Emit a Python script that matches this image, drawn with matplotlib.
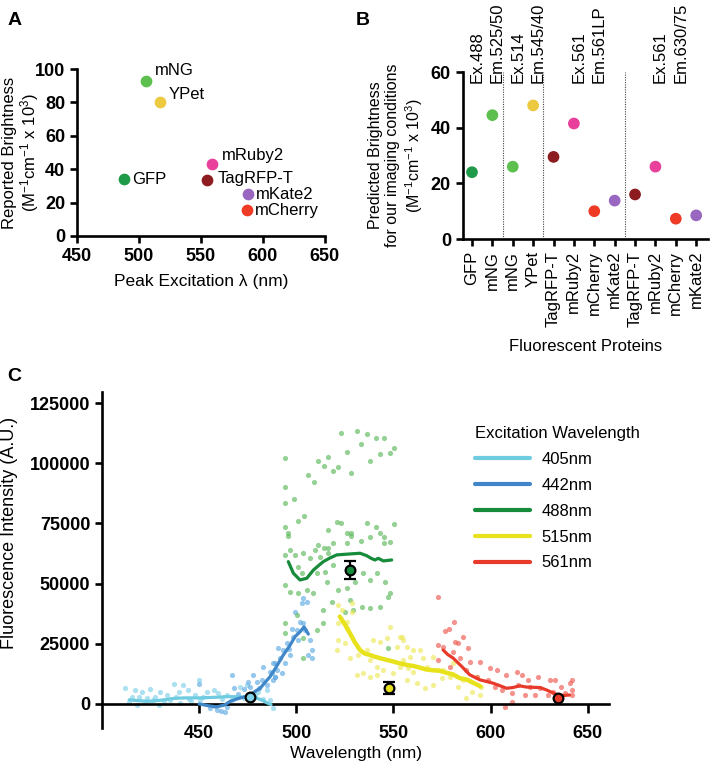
import matplotlib
matplotlib.use("Agg")
import matplotlib.pyplot as plt

plt.rcParams['font.family'] = ['Liberation Sans', 'DejaVu Sans']
plt.rcParams['mathtext.fontset'] = 'custom'
plt.rcParams['mathtext.rm'] = 'Liberation Sans'
plt.rcParams['mathtext.it'] = 'Liberation Sans:italic'
plt.rcParams['mathtext.bf'] = 'Liberation Sans:bold'

# ---- panel A: reported brightness vs peak excitation
a_names = ['GFP', 'mNG', 'YPet', 'mRuby2', 'TagRFP-T', 'mKate2', 'mCherry']
a_excitation = [488, 506, 517, 559, 555, 588, 587]
a_brightness = [34, 93, 80, 43, 33.5, 25, 15.5]

fp_colors = {'GFP': '#1f9a48', 'mNG': '#5cbf4e', 'YPet': '#ecc93e',
             'mRuby2': '#e8409b', 'TagRFP-T': '#8c1c1f',
             'mKate2': '#9966c0', 'mCherry': '#ef3a25'}

# ---- panel B: predicted brightness for our imaging conditions
b_names = ['GFP', 'mNG', 'mNG', 'YPet', 'TagRFP-T', 'mRuby2', 'mCherry', 'mKate2',
           'TagRFP-T', 'mRuby2', 'mCherry', 'mKate2']
b_brightness = [24, 44.5, 26, 48, 29.5, 41.5, 10, 13.8, 16, 26, 7.3, 8.5]
b_filters = ['Ex.488', 'Em.525/50', 'Ex.514', 'Em.545/40', '', 'Ex.561', 'Em.561LP', '',
             '', 'Ex.561', 'Em.630/75', '']
b_dividers = [1.5, 3.5, 7.5]

# ---- panel C: emission spectra (scatter = raw, line = smoothed)
s405_wl = [412.0, 417.1, 420.5, 424.8, 430.0, 415.4, 418.8, 423.1, 427.4, 433.4, 437.1,
           441.9, 439.7, 435.1, 444.5, 450.0, 447.9, 454.0, 457.4, 459.9, 450.5, 440.2,
           429.1, 418.0, 464.2, 470.2, 477.1, 480.5, 484.8, 486.5, 488.2, 471.1, 474.5,
           445, 426, 432, 414, 422, 438, 446, 452, 462, 467, 473, 479, 483]
s405_val = [6500, 5800, 5100, 6100, 5100, 3000, 3000, 2400, 3000, 3700, 8200,
            7900, 5100, 1700, 5800, 10000, 3700, 5100, 5800, 4400, 1700, 300,
            -300, -300, 3700, 3000, 1700, 5100, 5800, 1700, -1800, 7200, 7900,
            2000, 1500, 800, 1000, 900, 2800, 1200, 3000, 2200, 1500, 2500, 3500, 2000]

s442_wl = [450.0, 455.7, 459.1, 463.4, 464.2, 466.8, 467.7, 475.3, 477.9, 479.7, 483.1,
           482.2, 488.2, 490.8, 489.1, 486.5, 503.6, 505.4, 502.8, 499.4, 501.9, 503.6,
           504.5, 500.2, 498.5, 501.1, 495.1, 507.1, 507.9, 506.2, 507.9, 493.3, 496.8,
           491.6, 494.2, 489.1, 490.0, 487.4, 492.5, 488.2, 489.1,
           458, 461, 470, 473, 476, 481, 485, 496, 498]
s442_val = [8300, -1800, -2500, -3200, -1100, 12000, 6500, 9300, 12200, 9300, 15500,
            10000, 16900, 23100, 11300, 13400, 43900, 42500, 41800, 38300, 34200, 33500,
            30700, 30700, 28000, 26600, 25200, 26600, 22400, 20300, 19000, 22400, 20300,
            19000, 16900, 16900, 14100, 12700, 12700, 10000, 11300,
            -1000, -2800, 4000, 6000, 7000, 6500, 8000, 23000, 31000]

s488_wl = [523.0, 531.2, 536.2, 541.0, 545.1, 550.3, 533.1, 526.1, 548.0, 543.2, 538.2,
           494.1, 511.2, 516.2, 514.1, 521.3, 519.1, 528.1, 506.0, 509.1, 494.1, 499.0,
           494.1, 504.1, 501.1, 494.1, 495.9, 495.9, 521.0, 523.0, 516.2, 536.2, 541.0,
           550.3, 526.1, 528.1, 528.1, 543.1, 545.1, 538.2, 533.1, 548.2, 545.1, 519.1,
           526.1, 511.2, 514.1, 516.2,
           494.2, 496.8, 499.4, 503.6, 507.1, 509.6, 512.2, 516.5, 519.1, 514.8, 510.5,
           502.8, 501.1, 494.2, 496.8, 501.1, 505.4, 508.8, 515.7, 521.6, 525.9, 530.2,
           534.5, 537.9, 541.4, 545.6, 548.2, 547.3, 543.1, 537.9, 533.7, 529.4, 525.1,
           513.9, 518.2, 527.6, 494.2, 503.6, 510.5, 513.9, 503.6, 547.3, 494.2, 500.2]
s488_val = [112500, 113400, 112100, 110500, 110300, 106500, 107800, 104500, 104100, 103700,
            101000, 102300, 100800, 102700, 99000, 98600, 96800, 96100, 95000, 92300,
            90100, 85300, 83400, 78200, 76100, 73400, 71100, 69800, 75700, 75300, 72300,
            75000, 73500, 74800, 70900, 71100, 69800, 71100, 69500, 69200, 67800, 67400,
            67000, 66700, 67000, 66200, 64900, 64900,
            61900, 64000, 61900, 62600, 60500, 64000, 61200, 62600, 57700, 54900, 54300,
            54300, 57000, 49400, 46600, 46000, 47300, 46000, 50800, 47300, 48000, 50800,
            54300, 51500, 54300, 50800, 46000, 44600, 40400, 39700, 40400, 39000, 38300,
            39000, 42500, 43200, 29400, 27300, 30700, 33500, 19000, 23100, 33500, 37000]

s515_wl = [521.6, 523.4, 528.5, 528.5, 521.6, 525.9, 521.6, 525.1, 520.8, 527.6, 531.9,
           536.2, 539.6, 543.1, 537.9, 541.4, 531.0, 534.5, 537.9, 541.4, 544.8, 550.0,
           553.3, 546.5, 551.6, 554.2, 548.2, 525.9,
           555.1, 556.8, 560.2, 563.6, 555.1, 557.6, 560.2, 565.3, 567.1, 570.5, 556.8,
           561.9, 566.2, 570.5, 574.8, 575.7, 579.0, 583.3, 585.9, 587.6, 590.2, 592.8,
           595.3, 594.5, 553.3, 558.5, 572.2, 580.7]
s515_val = [41100, 39000, 41800, 38300, 33500, 31400, 26600, 25200, 22400, 19000, 20300,
            22400, 26600, 25900, 18300, 15500, 12000, 12700, 11300, 12000, 14100, 12700,
            15500, 27300, 23800, 27900, 32100, 34200,
            26600, 23800, 22400, 22400, 18300, 14800, 13400, 19000, 15500, 19600, 10000,
            8600, 6500, 7900, 10700, 14100, 11300, 7200, 10000, 2400, 5100, 11300,
            7200, 3700, 27900, 19600, 14100, 16900]

s561_wl = [573.0, 576.5, 578.7, 581.1, 581.6, 583.3, 585.9, 588.5, 573.0, 575.6, 580.7,
           573.0, 579.0, 584.2, 589.3, 594.5, 599.6, 603.1, 608.2, 613.5, 616.0, 619.5,
           624.6, 630.6, 633.1, 641.9, 641.9, 641.9, 636.5, 638.2, 629.7, 622.9, 617.7,
           610.9, 605.8, 602.3, 598.9, 592.8, 587.6, 610.9, 607.5, 620.4, 625.5, 632.3,
           640.8, 614.3, 634.0]
s561_val = [44300, 30400, 31000, 34200, 25900, 25500, 27700, 23100, 24500, 23800, 21700,
            18300, 15500, 19000, 17600, 17600, 14800, 14100, 12000, 13400, 12000, 10000,
            11300, 10000, 10000, 10000, 5800, 3700, 7200, 4400, 3700, 3700, 3700,
            4400, 5800, 7200, 10000, 11300, 14100, 1000, -1100, 7200, 6500, 5100,
            8600, 7900, 3000]

l405_wl = [414, 419, 425, 431, 437, 443, 450, 457, 464, 470, 476, 480, 483, 485, 487]
l405_val = [1700, 1300, 1100, 1600, 2300, 2500, 2500, 2700, 3000, 3000, 2700, 2300, 1300, 400, -300]

l442_wl = [450, 455, 459, 463, 466, 470, 474.5, 478, 481.4, 484, 486.5, 490, 493.3, 496.5,
           499.4, 502, 504, 506.2]
l442_val = [0, -800, -1200, -500, 1100, 2200, 3200, 4800, 6500, 9000, 11300, 15800, 20300,
            24000, 28000, 30000, 32000, 29000]

l488_wl = [495.9, 498.5, 501.9, 505.4, 508.8, 511.5, 513.9, 517, 520.8, 524, 527.6, 532.8,
           536.2, 538.5, 540.5, 542.2, 544.8, 549.1]
l488_val = [59100, 54300, 51500, 52200, 55600, 57500, 59100, 60500, 61900, 62100, 62300,
            62600, 61600, 60500, 59800, 60500, 59400, 59800]

l515_wl = [522.4, 525, 527.6, 530, 532.8, 535, 537.9, 540.5, 543.1, 546.5, 550, 553,
           556.8, 560, 563, 566.9, 570, 573.8, 577, 580.8, 584.2, 587.8, 591, 594.8]
l515_val = [36300, 33000, 29400, 25800, 22400, 21000, 20300, 19600, 19000, 18300, 17600,
            16900, 16200, 15800, 15200, 14300, 14000, 13800, 13000, 12200, 10700, 10100,
            8800, 7300]

l561_wl = [575.6, 578, 580.8, 585.1, 589.3, 594.5, 598, 601.3, 605, 608.2, 611.5, 615,
           618.5, 621.9, 625.5, 628.8, 631.5, 634.7, 637.5, 640.7]
l561_val = [22400, 20500, 19000, 15600, 12100, 10000, 9300, 8600, 7500, 6500, 6800, 7500,
            7000, 6900, 6800, 5800, 4800, 3700, 3500, 3700]

peak_wl = [476.2, 527.6, 547.8, 634.7]
peak_val = [3000, 55600, 6800, 2400]
peak_err = [0, 3800, 2500, 0]

c_labels = ['405nm', '442nm', '488nm', '515nm', '561nm']
line_colors = ['#6fcbe0', '#3f87c9', '#168b3a', '#e8e21c', '#e83a2a']
dot_colors = ['#7fd0ea', '#5ea9e2', '#5cb85c', '#eee85a', '#ef5a50']
peak_fill = ['#7fd0ea', '#168b3a', '#e8e21c', '#e83a2a']

SPW = 1.9


def style_axes(ax):
    for s in ['top', 'right']:
        ax.spines[s].set_visible(False)
    for s in ['left', 'bottom']:
        ax.spines[s].set_linewidth(SPW)
    ax.tick_params(width=SPW, length=5, labelsize=13)


def bold_ticks(labels):
    for t in labels:
        t.set_fontweight('bold')


fig = plt.figure(figsize=(7.12, 7.71), dpi=100)

# ---------------- A
axA = fig.add_axes([0.108, 0.694, 0.348, 0.2165])
style_axes(axA)
for name, x, y in zip(a_names, a_excitation, a_brightness):
    axA.scatter(x, y, s=55, color=fp_colors[name], zorder=3, clip_on=False)
offsets = {'GFP': (6, 0), 'mNG': (6, 7), 'YPet': (6, 6), 'mRuby2': (7, 6),
           'TagRFP-T': (8, 1), 'mKate2': (6, 0), 'mCherry': (6, 0)}
for name, x, y in zip(a_names, a_excitation, a_brightness):
    axA.annotate(name, (x, y), xytext=offsets[name], textcoords='offset points',
                 ha='left', va='center', fontsize=12)
axA.set_xlim(450, 650)
axA.set_ylim(0, 100)
axA.set_xticks([450, 500, 550, 600, 650])
axA.set_yticks([0, 20, 40, 60, 80, 100])
bold_ticks(axA.get_xticklabels() + axA.get_yticklabels())
axA.set_xlabel('Peak Excitation λ (nm)', fontsize=12.5, labelpad=7)
axA.set_ylabel('Reported Brightness\n(M$^{-1}$cm$^{-1}$ x 10$^{3}$)', fontsize=12,
               linespacing=1.05)
axA.yaxis.set_label_coords(-0.145, 0.5)
fig.text(0.01, 0.985, 'A', fontsize=14, fontweight='bold', va='top')

# ---------------- B
axB = fig.add_axes([0.650, 0.690, 0.345, 0.2166])
style_axes(axB)
xs = list(range(len(b_names)))
axB.scatter(xs, b_brightness, s=55, color=[fp_colors[n] for n in b_names], zorder=3)
for d in b_dividers:
    axB.plot([d, d], [0, 60], ls=(0, (1, 1.2)), color='#444444', lw=0.8)
for i, lab in enumerate(b_filters):
    if lab:
        axB.text(i + 0.25, 56, lab, rotation=90, ha='center', va='bottom', fontsize=12)
axB.set_xlim(-0.45, 11.6)
axB.set_ylim(0, 60)
axB.set_yticks([0, 20, 40, 60])
axB.set_xticks(xs)
axB.set_xticklabels(b_names, rotation=90, fontsize=12)
bold_ticks(axB.get_yticklabels())
axB.set_xlabel('Fluorescent Proteins', fontsize=12, labelpad=9)
axB.set_ylabel('Predicted Brightness\nfor our imaging conditions\n'
               '(M$^{-1}$cm$^{-1}$ x 10$^{3}$)', fontsize=11.5, labelpad=4)
fig.text(0.499, 0.985, 'B', fontsize=14, fontweight='bold', va='top')

# ---------------- C
axC = fig.add_axes([0.1433, 0.0558, 0.7121, 0.4358])
style_axes(axC)
axC.spines['bottom'].set_position(('data', 0))

scatters = [(s405_wl, s405_val), (s442_wl, s442_val), (s488_wl, s488_val),
            (s515_wl, s515_val), (s561_wl, s561_val)]
lines = [(l405_wl, l405_val), (l442_wl, l442_val), (l488_wl, l488_val),
         (l515_wl, l515_val), (l561_wl, l561_val)]
for (wx, wy), c in zip(scatters, dot_colors):
    axC.scatter(wx, wy, s=14, color=c, alpha=0.65, lw=0, zorder=2)
for (lx, ly), c, lab in zip(lines, line_colors, c_labels):
    lw = 3.2 if lab == '515nm' else 2.3
    axC.plot(lx, ly, color=c, lw=lw, label=lab, zorder=3, solid_capstyle='round')
for x, y, e, fc in zip(peak_wl, peak_val, peak_err, peak_fill):
    axC.errorbar(x, y, yerr=e if e else None, fmt='o', ms=7, mfc=fc, mec='black',
                 mew=1.6, ecolor='black', elinewidth=1.6, capsize=4, capthick=1.6,
                 zorder=4)

axC.set_xlim(400, 661)
axC.set_ylim(-10000, 129600)
axC.set_xticks([450, 500, 550, 600, 650])
axC.set_yticks([0, 25000, 50000, 75000, 100000, 125000])
axC.tick_params(axis='x', length=6.5, pad=9)
bold_ticks(axC.get_xticklabels() + axC.get_yticklabels())
axC.set_xlabel('Wavelength (nm)', fontsize=12.5)
axC.set_ylabel('Fluorescence Intensity (A.U.)', fontsize=13)
axC.yaxis.set_label_coords(-0.165, 0.58)
axC.xaxis.set_label_coords(0.5, -0.055)

leg = axC.legend(loc='upper left', bbox_to_anchor=(0.655, 0.458),
                 bbox_transform=fig.transFigure, frameon=False, fontsize=12,
                 title='Excitation Wavelength', title_fontsize=12, alignment='left',
                 handlelength=3.3, handletextpad=0.7, labelspacing=0.65, borderpad=0)
for h in leg.get_lines():
    h.set_linewidth(3)
fig.text(0.01, 0.523, 'C', fontsize=14, fontweight='bold', va='top')

fig.savefig('out.png', dpi=100)
